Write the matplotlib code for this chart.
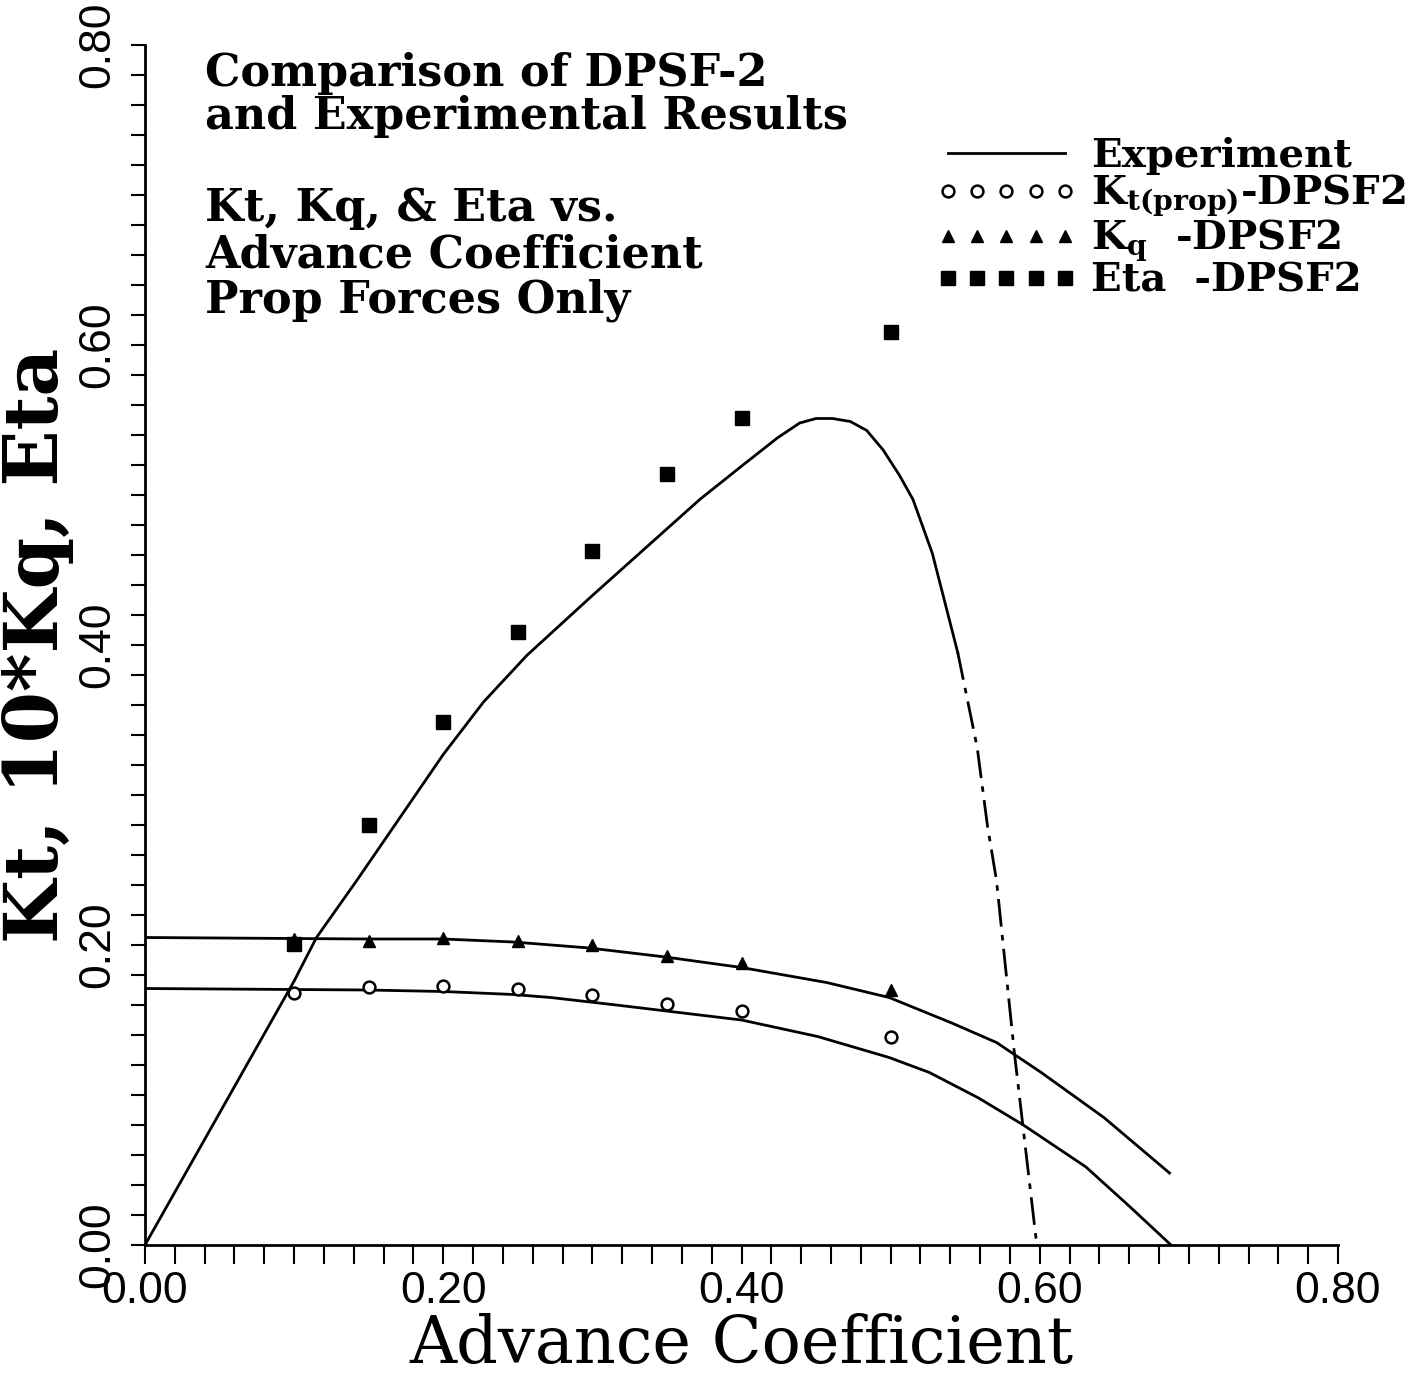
import numpy as np
import matplotlib
matplotlib.use('Agg')
import matplotlib.pyplot as plt
from matplotlib.ticker import MultipleLocator, FormatStrFormatter

# DPSF-2 predictions (markers)
J_pts = [0.10, 0.15, 0.20, 0.25, 0.30, 0.35, 0.40, 0.50]
kt_pts = [0.168, 0.172, 0.173, 0.171, 0.167, 0.161, 0.156, 0.139]
kq_pts = [0.204, 0.203, 0.205, 0.203, 0.200, 0.193, 0.188, 0.170]
eta_pts = [0.201, 0.280, 0.349, 0.409, 0.463, 0.514, 0.551, 0.609]

# experiment curves
J_eta = [0, 0.05, 0.10, 0.115, 0.142, 0.20, 0.227, 0.256, 0.300, 0.345, 0.372,
         0.401, 0.424, 0.439, 0.450, 0.461, 0.473, 0.484, 0.495, 0.506, 0.515,
         0.528, 0.545, 0.558, 0.565, 0.571, 0.583, 0.598]
eta_exp = [0, 0.088, 0.176, 0.205, 0.243, 0.327, 0.362, 0.393, 0.433, 0.473, 0.497,
           0.520, 0.538, 0.548, 0.551, 0.551, 0.549, 0.543, 0.530, 0.513, 0.497,
           0.461, 0.395, 0.332, 0.279, 0.243, 0.128, 0.0]
J_kq = [0, 0.149, 0.200, 0.247, 0.298, 0.349, 0.400, 0.457, 0.499, 0.541, 0.571,
        0.601, 0.643, 0.687]
kq_exp = [0.205, 0.204, 0.204, 0.202, 0.198, 0.192, 0.185, 0.175, 0.165, 0.148,
          0.135, 0.115, 0.085, 0.048]
J_kt = [0, 0.149, 0.200, 0.247, 0.272, 0.316, 0.400, 0.451, 0.499, 0.526, 0.559,
        0.589, 0.631, 0.661, 0.688]
kt_exp = [0.171, 0.170, 0.169, 0.167, 0.165, 0.160, 0.150, 0.139, 0.125, 0.115,
          0.098, 0.080, 0.052, 0.025, 0.0]

fig = plt.figure(figsize=(14.27, 13.82), dpi=100)
ax = fig.add_axes([145/1427, 137/1382, 1193/1427, 1200/1382])

split = J_eta.index(0.545)
h_exp, = ax.plot(J_eta[:split+1], eta_exp[:split+1], color='k', lw=2)
ax.plot(J_eta[split:], eta_exp[split:], color='k', lw=2, linestyle=(0, (10, 3, 2, 3)))
ax.plot(J_kq, kq_exp, color='k', lw=2)
ax.plot(J_kt, kt_exp, color='k', lw=2)

h_kt, = ax.plot(J_pts, kt_pts, 'o', ms=8.5, mfc='white', mec='k', mew=1.8, ls='none')
h_kq, = ax.plot(J_pts, kq_pts, '^', ms=9, color='k', ls='none')
h_eta, = ax.plot(J_pts, eta_pts, 's', ms=9.5, color='k', ls='none')

ax.set_xlim(0, 0.8)
ax.set_ylim(0, 0.8)
for s in ['top', 'right']:
    ax.spines[s].set_visible(False)
for s in ['left', 'bottom']:
    ax.spines[s].set_linewidth(2)

ax.xaxis.set_major_locator(MultipleLocator(0.2))
ax.yaxis.set_major_locator(MultipleLocator(0.2))
ax.xaxis.set_minor_locator(MultipleLocator(0.02))
ax.yaxis.set_minor_locator(MultipleLocator(0.02))
ax.xaxis.set_major_formatter(FormatStrFormatter('%.2f'))
ax.yaxis.set_major_formatter(FormatStrFormatter('%.2f'))
ax.tick_params(which='both', direction='out', width=1.5, color='k')
ax.tick_params(axis='x', which='both', length=14, pad=5)
ax.tick_params(axis='y', which='both', length=10, pad=9)
ax.tick_params(axis='y', labelrotation=90)
for lab in ax.get_xticklabels() + ax.get_yticklabels():
    lab.set_fontfamily('Liberation Sans')
    lab.set_fontsize(32)
for lab in ax.get_yticklabels():
    lab.set_verticalalignment('center')

ax.set_xlabel('Advance Coefficient', fontfamily='DejaVu Serif', fontsize=47)
ax.xaxis.label.set_verticalalignment('baseline')
ax.xaxis.set_label_coords(0.5, (1245 - 1363) / 1200)
ax.set_ylabel('Kt, 10*Kq, Eta', fontfamily='DejaVu Serif', fontweight='bold',
              fontsize=53)
ax.yaxis.set_label_coords((74 - 145) / 1193, 0.5)

note = dict(fontfamily='DejaVu Serif', fontweight='bold', fontsize=32, va='baseline')
lines1 = ['Comparison of DPSF-2', 'and Experimental Results']
lines2 = ['Kt, Kq, & Eta vs.', 'Advance Coefficient', 'Prop Forces Only']
for i, t in enumerate(lines1):
    fig.text(205/1427, 1 - (86 + 43*i)/1382, t, **note)
for i, t in enumerate(lines2):
    fig.text(205/1427, 1 - (221 + 46*i)/1382, t, **note)

leg = ax.legend([h_exp, h_kt, h_kq, h_eta],
                ['Experiment', r'K$\mathregular{_{t(prop)}}$-DPSF2',
                 r'K$\mathregular{_q}$  -DPSF2', 'Eta  -DPSF2'],
                loc='upper left', bbox_to_anchor=(936/1427, 1 - 137/1382),
                bbox_transform=fig.transFigure, frameon=False, numpoints=5,
                handlelength=3.5, handletextpad=0.35, labelspacing=-0.05,
                borderpad=0, borderaxespad=0,
                prop={'family': 'DejaVu Serif', 'weight': 'bold', 'size': 29})

fig.savefig('out.png', dpi=100)
